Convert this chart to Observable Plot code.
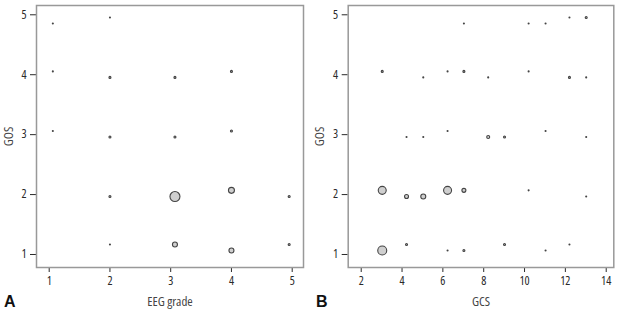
<!DOCTYPE html>
<html>
<head>
<meta charset="utf-8">
<script src="https://cdn.jsdelivr.net/npm/d3@7"></script>
<script src="https://cdn.jsdelivr.net/npm/@observablehq/plot@0.6"></script>
<style>
  html, body { margin: 0; padding: 0; background: #fff; }
  #wrap { position: relative; width: 624px; height: 309px; overflow: hidden; }
  .panel { position: absolute; top: 0; }
  .panel svg { font-family: "Open Sans", "DejaVu Sans", sans-serif; font-stretch: 75%; font-weight: 500; }
  .panel svg g[aria-label="x-axis label"] text,
  .panel svg g[aria-label="y-axis label"] text { font-size: 13px; font-weight: 400; fill: #444; }
  .tag { position: absolute; font-family: "Liberation Sans", Arial, sans-serif; font-weight: bold; font-size: 16px; color: #111; line-height: 1; }
</style>
</head>
<body>
<div id="wrap">
  <div id="panelA" class="panel" style="left:0px"></div>
  <div id="panelB" class="panel" style="left:310px"></div>
  <div class="tag" style="left:4px;top:294px">A</div>
  <div class="tag" style="left:316px;top:294px">B</div>
</div>
<script>
// Panel A: EEG grade vs GOS (jittered positions as read), bubble size = count
const eegGrade = [1.06, 2.0, 1.06, 2.0, 3.07, 4.0, 1.06, 2.0, 3.07, 4.0, 2.0, 3.07, 4.0, 4.95, 2.0, 3.07, 4.0, 4.95];
const gosA     = [4.855, 4.955, 4.055, 3.955, 3.955, 4.055, 3.06, 2.96, 2.96, 3.06, 1.967, 1.967, 2.07, 1.967, 1.167, 1.167, 1.067, 1.167];
const countA   = [1, 1, 1, 2, 2, 2, 1, 2, 2, 2, 2, 10, 6, 2, 1, 5, 5, 2];

// Panel B: GCS vs GOS
const gcs    = [3.03, 4.22, 5.04, 5.04, 6.23, 6.23, 7.03, 7.03, 8.22, 8.22, 9.02, 10.2, 10.2, 11.03, 11.03, 12.2, 12.2, 13.02, 13.02, 13.02,
                3.03, 4.22, 5.04, 6.23, 7.03, 10.2, 13.02,
                3.03, 4.22, 6.23, 7.03, 9.02, 11.03, 12.2];
const gosB   = [4.055, 2.96, 3.955, 2.96, 4.055, 3.06, 4.855, 4.055, 3.955, 2.96, 2.96, 4.855, 4.055, 4.855, 3.06, 4.955, 3.955, 4.955, 3.955, 2.96,
                2.07, 1.967, 1.967, 2.07, 2.07, 2.07, 1.967,
                1.067, 1.167, 1.067, 1.067, 1.167, 1.067, 1.167];
const countB = [2, 1, 1, 1, 1, 1, 1, 2, 1, 3, 2, 1, 1, 1, 1, 1, 2, 2, 1, 1,
                8, 4, 5, 8, 4, 1, 1,
                9, 2, 1, 2, 2, 1, 1];

const eegTicks = [1, 2, 3, 4, 5];
const gcsTicks = [2, 4, 6, 8, 10, 12, 14];
const gosTicks = [1, 2, 3, 4, 5];

const tableA = eegGrade.map((x, i) => ({x, y: gosA[i], n: countA[i]})).sort((a, b) => b.n - a.n);
const tableB = gcs.map((x, i) => ({x, y: gosB[i], n: countB[i]})).sort((a, b) => b.n - a.n);

function panel({data, width, marginLeft, marginRight, xDomain, xTicks, xLabel, yLabelOffset}) {
  return Plot.plot({
    width,
    height: 309,
    marginTop: 5,
    marginBottom: 42,
    marginLeft,
    marginRight,
    style: {color: "#2a2a2a", fontSize: "12px", background: "transparent"},
    x: {domain: xDomain, ticks: xTicks, tickFormat: "d", tickSize: 5, tickPadding: 4, label: xLabel, labelArrow: "none", labelAnchor: "center", labelOffset: 38},
    y: {domain: [0.783, 5.155], ticks: gosTicks, tickFormat: "d", tickSize: 6, tickPadding: 4, label: "GOS", labelArrow: "none", labelAnchor: "center", labelOffset: yLabelOffset},
    r: {type: "linear", domain: [0, 10], range: [0, 5]},
    marks: [
      Plot.frame({stroke: "#999", strokeWidth: 1.5}),
      Plot.dot(data, {x: "x", y: "y", r: "n", fill: "#cfcfcf", stroke: "#444", strokeWidth: 1.1})
    ]
  });
}

document.getElementById("panelA").append(panel({
  data: tableA, width: 310, marginLeft: 36, marginRight: 7,
  xDomain: [0.791, 5.186], xTicks: eegTicks, xLabel: "EEG grade", yLabelOffset: 32.4
}));
document.getElementById("panelB").append(panel({
  data: tableB, width: 314, marginLeft: 37.7, marginRight: 10.7,
  xDomain: [1.363, 14.372], xTicks: gcsTicks, xLabel: "GCS", yLabelOffset: 33.5
}));
</script>
</body>
</html>
